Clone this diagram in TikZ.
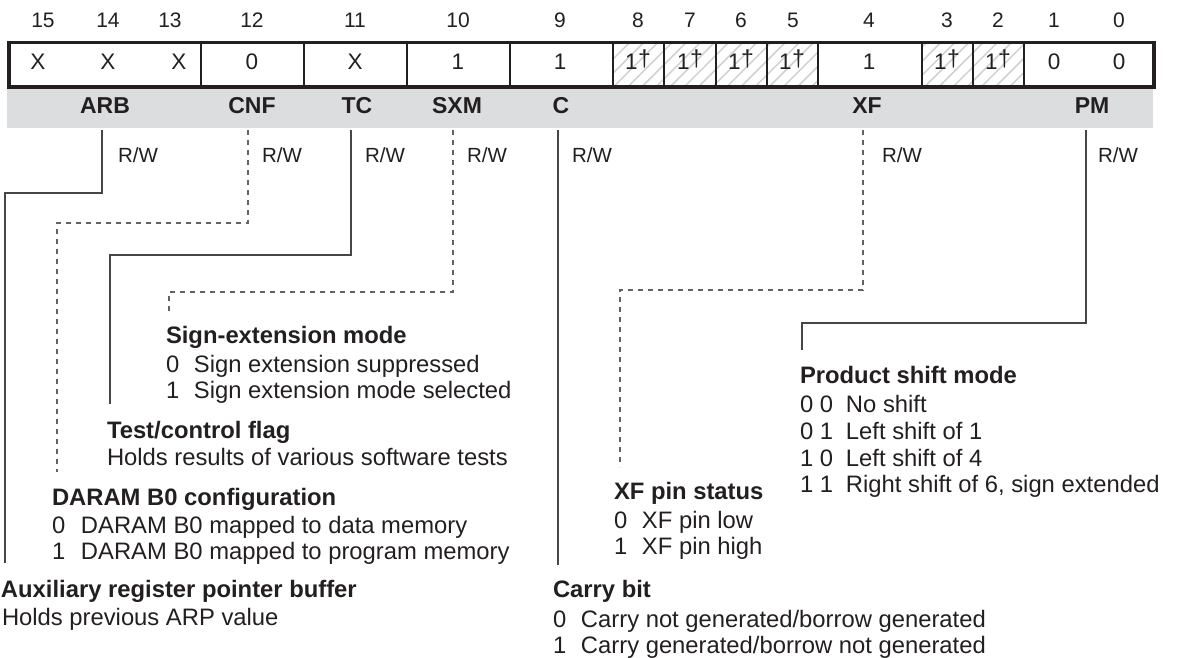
\documentclass[tikz,border=0pt]{standalone}
\usepackage{fontspec}
\setmainfont{Liberation Sans}
\usetikzlibrary{patterns.meta}
\definecolor{ink}{RGB}{35,31,32}
\definecolor{bandgray}{RGB}{220,221,223}
\definecolor{conncol}{RGB}{70,70,70}
\definecolor{hatchcol}{RGB}{208,208,210}
\newcommand\bititem[3]{\makebox[#1pt][l]{#2}#3}
\begin{document}
\begin{tikzpicture}[x=1pt,y=-1pt,
  every node/.style={inner sep=0pt,outer sep=0pt,text=ink},
  bitnum/.style={anchor=base,font=\fontsize{21}{24}\selectfont},
  cellval/.style={anchor=base,font=\fontsize{22.5}{26}\selectfont},
  fname/.style={anchor=base,font=\fontsize{23}{26}\selectfont\bfseries},
  rwtext/.style={anchor=base,font=\fontsize{20.5}{24}\selectfont},
  ttl/.style={anchor=base west,font=\fontsize{23.8}{28}\selectfont\bfseries},
  bodytxt/.style={anchor=base west,font=\fontsize{23.8}{28}\selectfont},
  divider/.style={draw=ink,line width=2pt},
  solidconn/.style={draw=conncol,line width=1.3pt},
  dashconn/.style={draw=conncol!85,line width=1.3pt,dash pattern=on 5pt off 5pt}]
\useasboundingbox (0,0) rectangle (1178,658);

% grey band
\fill[bandgray] (7,87) rectangle (1153,128);
% hatched reserved cells
\foreach \a/\b in {613/664,664/716,716/767,767/818,922/973,973/1024}
  \fill[pattern={Lines[angle=45,distance=10pt,line width=1.5pt]},pattern color=hatchcol] (\a,44) rectangle (\b,86);
% dividers
\foreach \x in {201,304,407,510,613,664,716,767,818,922,973,1024}
  \draw[divider] (\x,43) -- (\x,87);
% outer box
\draw[draw=ink,line width=3.2pt] (9,42.5) rectangle (1154,87);

% bit numbers
\foreach \x/\n in {43/15,108/14,170/13,252/12,355/11,458/10,560/9,638/8,690/7,741/6,793/5,869/4,947/3,998/2,1054/1,1119/0}
  \node[bitnum] (b\n) at (\x,27.5) {\n};
% cell values
\foreach \x/\n/\v in {38/15/X,108/14/X,179/13/X,252/12/0,355/11/X,458/10/1,560/9/1,869/4/1,1054/1/0,1119/0/0}
  \node[cellval] (v\n) at (\x,69.5) {\v};
\foreach \x/\n in {638/8,690/7,741/6,792/5,947/3,998/2}
  \node[cellval] (v\n) at (\x,69.5) {1\kern0.5pt\raisebox{3pt}{\fontsize{23}{23}\selectfont †}};
% field names
\foreach \x/\f in {105/ARB,252/CNF,357/TC,457/SXM,561/C,867/XF,1092/PM}
  \node[fname] (f\f) at (\x,113.5) {\f};
% R/W
\foreach \x/\f in {138/ARB,282/CNF,385/TC,487/SXM,592/C,902/XF,1118/PM}
  \node[rwtext] (rw\f) at (\x,163) {R/W};

% descriptions
\node[ttl] (tARB) at (1,597) {Auxiliary register pointer buffer};
\node[bodytxt] (dARB) at (2,625) {Holds previous ARP value};

\node[ttl] (tCNF) at (52,505) {DARAM B0 configuration};
\node[bodytxt] (dCNF0) at (52,533) {\bititem{29}{0}{DARAM B0 mapped to data memory}};
\node[bodytxt] (dCNF1) at (52,559) {\bititem{29}{1}{DARAM B0 mapped to program memory}};

\node[ttl] (tTC) at (107,438) {Test/control flag};
\node[bodytxt] (dTC) at (107,465) {Holds results of various software tests};

\node[ttl] (tSXM) at (166,343) {Sign-extension mode};
\node[bodytxt] (dSXM0) at (166,372) {\bititem{28}{0}{Sign extension suppressed}};
\node[bodytxt] (dSXM1) at (166,398) {\bititem{28}{1}{Sign extension mode selected}};

\node[ttl] (tC) at (553,597) {Carry bit};
\node[bodytxt] (dC0) at (553,627) {\bititem{28}{0}{Carry not generated/borrow generated}};
\node[bodytxt] (dC1) at (553,653) {\bititem{28}{1}{Carry generated/borrow not generated}};

\node[ttl] (tXF) at (614,499) {XF pin status};
\node[bodytxt] (dXF0) at (614,528) {\bititem{28}{0}{XF pin low}};
\node[bodytxt] (dXF1) at (614,554) {\bititem{28}{1}{XF pin high}};

\node[ttl] (tPM) at (800,383) {Product shift mode};
\node[bodytxt] (dPM0) at (800,412) {\bititem{46}{0 0}{No shift}};
\node[bodytxt] (dPM1) at (800,439) {\bititem{46}{0 1}{Left shift of 1}};
\node[bodytxt] (dPM2) at (800,466) {\bititem{46}{1 0}{Left shift of 4}};
\node[bodytxt] (dPM3) at (800,492) {\bititem{46}{1 1}{Right shift of 6, sign extended}};

% connector coordinates
\coordinate (sARB) at (102,130); \coordinate (eARB) at (5,563);
\coordinate (sCNF) at (248,130); \coordinate (eCNF) at (57,472);
\coordinate (sTC)  at (351,130); \coordinate (eTC)  at (110,404);
\coordinate (sSXM) at (453,130); \coordinate (eSXM) at (169,312);
\coordinate (sC)   at (558,130); \coordinate (eC)   at (558,565);
\coordinate (sXF)  at (863,130); \coordinate (eXF)  at (620,467);
\coordinate (sPM)  at (1086,130); \coordinate (ePM) at (802,350);

\draw[solidconn] (sARB) -- ++(0,63) -| (eARB);
\draw[dashconn]  (sCNF) -- ++(0,93) -| (eCNF);
\draw[solidconn] (sTC)  -- ++(0,125) -| (eTC);
\draw[dashconn]  (sSXM) -- ++(0,162) -| (eSXM);
\draw[solidconn] (sC) -- (eC);
\draw[dashconn]  (sXF)  -- ++(0,160) -| (eXF);
\draw[solidconn] (sPM)  -- ++(0,193) -| (ePM);
\end{tikzpicture}
\end{document}
